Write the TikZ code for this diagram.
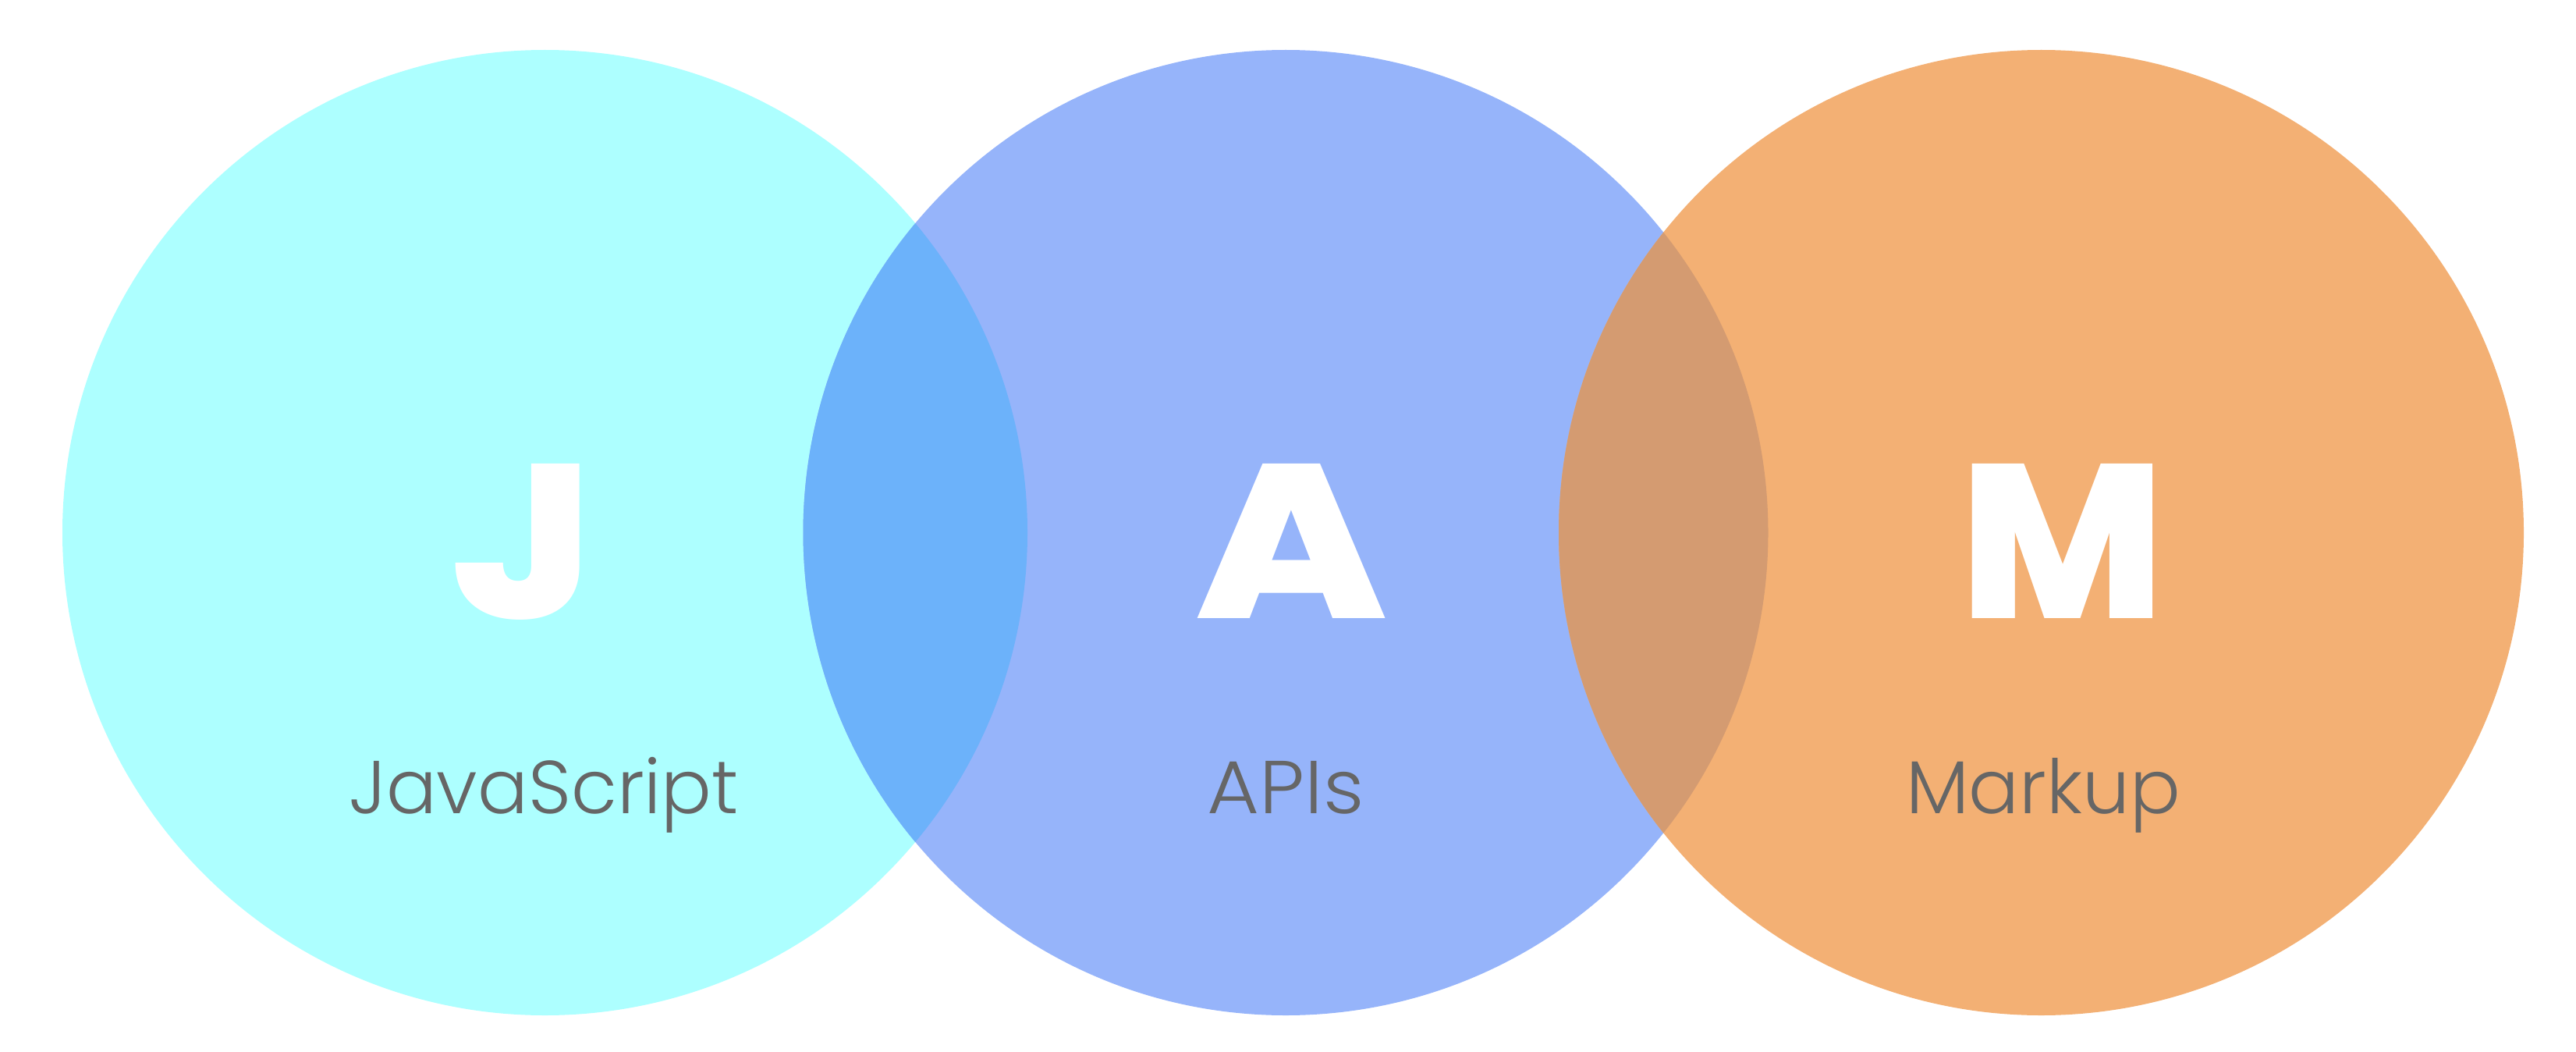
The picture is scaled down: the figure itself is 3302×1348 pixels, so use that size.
\documentclass[tikz,border=0pt]{standalone}
\usepackage{fontspec}
\usepackage{graphicx}
\setmainfont{Poppins}
\newfontfamily\lightfont{Poppins Light}
\newfontfamily\heavyfont{Poppins ExtraBold}
\definecolor{cJ}{HTML}{ADFFFF}
\definecolor{cA}{HTML}{96B4FA}
\definecolor{cM}{HTML}{F3B074}
\definecolor{cJA}{HTML}{6CB2FA}
\definecolor{cAM}{HTML}{D49B71}
\definecolor{txt}{HTML}{666666}
\begin{document}
\begin{tikzpicture}[x=1pt,y=-1pt,
  big/.style={text=white,font=\heavyfont\fontsize{281}{281}\selectfont,anchor=base,inner sep=0pt},
  lbl/.style={text=txt,font=\lightfont\fontsize{96}{96}\selectfont,anchor=base,inner sep=0pt}]
\useasboundingbox (0,0) rectangle (3302,1348);
\coordinate (cj) at (698.5,682.5);
\coordinate (ca) at (1648,682.5);
\coordinate (cm) at (2616.5,682.5);
\fill[cJ] (cj) circle[radius=618.5pt];
\fill[cA] (ca) circle[radius=618.5pt];
\fill[cM] (cm) circle[radius=618.5pt];
\begin{scope}
  \clip (cj) circle[radius=618.5pt];
  \fill[cJA] (ca) circle[radius=618.5pt];
\end{scope}
\begin{scope}
  \clip (ca) circle[radius=618.5pt];
  \fill[cAM] (cm) circle[radius=618.5pt];
\end{scope}
\node[big] (J) at (670,792) {\scalebox{1.12}[1]{J}};
\node[big] (A) at (1656,792) {\scalebox{1.16}[1]{A}};
\node[big] (M) at (2644,792) {M};
\node[lbl] (lj) at (697,1042) {JavaScript};
\node[lbl] (la) at (1648,1042) {\scalebox{1.07}[1]{APIs}};
\node[lbl] (lm) at (2619,1042) {Markup};
\end{tikzpicture}
\end{document}
